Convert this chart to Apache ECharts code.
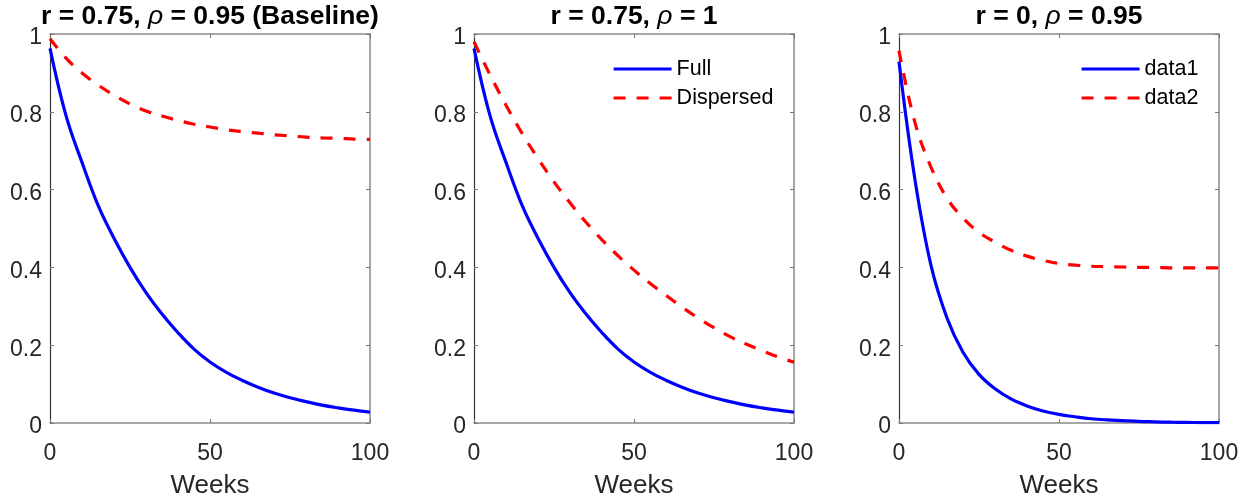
<!DOCTYPE html>
<html><head><meta charset="utf-8">
<script src="https://cdn.jsdelivr.net/npm/echarts@6/dist/echarts.min.js"></script>
<style>html,body{margin:0;padding:0;background:#fff}#c{width:1252px;height:504px}</style>
</head><body><div id="c"></div>
<script>
// ---- data ----
const weeks = [0, 5, 10, 15, 20, 25, 30, 35, 40, 45, 50, 55, 60, 65, 70, 75, 80, 85, 90, 95, 100];
// Panel 1: r = 0.75, rho = 0.95 (Baseline)
const fullA = [0.963, 0.79, 0.67, 0.56, 0.475, 0.4, 0.335, 0.28, 0.232, 0.19, 0.157, 0.131, 0.11, 0.092, 0.077, 0.065, 0.055, 0.046, 0.039, 0.033, 0.028];
const dispA = [0.988, 0.938, 0.9, 0.869, 0.843, 0.82, 0.802, 0.789, 0.778, 0.768, 0.761, 0.754, 0.749, 0.745, 0.741, 0.738, 0.735, 0.733, 0.732, 0.73, 0.729];
// Panel 2: r = 0.75, rho = 1
const fullB = [0.963, 0.79, 0.67, 0.56, 0.475, 0.4, 0.335, 0.28, 0.232, 0.19, 0.157, 0.131, 0.11, 0.092, 0.077, 0.065, 0.055, 0.046, 0.039, 0.033, 0.028];
const dispB = [0.98, 0.895, 0.817, 0.745, 0.68, 0.62, 0.566, 0.516, 0.471, 0.43, 0.393, 0.359, 0.328, 0.298, 0.27, 0.245, 0.222, 0.203, 0.186, 0.17, 0.156];
// Panel 3: r = 0, rho = 0.95
const fullC = [0.929, 0.625, 0.405, 0.27, 0.182, 0.125, 0.088, 0.062, 0.044, 0.031, 0.022, 0.016, 0.011, 0.008, 0.006, 0.004, 0.003, 0.002, 0.0015, 0.001, 0.001];
const dispC = [0.957, 0.772, 0.658, 0.578, 0.527, 0.49, 0.465, 0.444, 0.429, 0.418, 0.41, 0.406, 0.403, 0.402, 0.401, 0.4, 0.4, 0.399, 0.399, 0.399, 0.399];

const titleA = ['r = 0.75, ', 'ρ', ' = 0.95 (Baseline)'];
const titleB = ['r = 0.75, ', 'ρ', ' = 1'];
const titleC = ['r = 0, ', 'ρ', ' = 0.95'];
const seriesNamesB = ['Full', 'Dispersed'];
const seriesNamesC = ['data1', 'data2'];
const xLabel = 'Weeks';

// ---- layout / style ----
const FONT = '"Liberation Sans", Arial, Helvetica, sans-serif';
const lefts = [50, 474, 899];
const W = 320, TOP = 34, H = 394;
const panels = [
  {title: titleA, full: fullA, disp: dispA, names: seriesNamesB, legend: false},
  {title: titleB, full: fullB, disp: dispB, names: seriesNamesB, legend: true, legendLeft: 612},
  {title: titleC, full: fullC, disp: dispC, names: seriesNamesC, legend: true, legendLeft: 1080}
];

const grid = [], xAxis = [], yAxis = [], series = [], title = [], legend = [];
const boxLine = {show: true, onZero: false, lineStyle: {color: '#8a8a8a', width: 1.5}};
const tick = {show: true, inside: true, length: 4, lineStyle: {color: '#777', width: 1}};

panels.forEach((p, i) => {
  const l = lefts[i];
  grid.push({left: l, top: TOP, width: W, height: H, containLabel: false});
  xAxis.push({
    gridIndex: i, type: 'value', min: 0, max: 100, interval: 50, position: 'bottom',
    axisLine: boxLine, axisTick: tick, splitLine: {show: false},
    axisLabel: {fontSize: 23, color: '#262626', margin: 19, fontFamily: FONT},
    name: xLabel, nameLocation: 'middle', nameGap: 50,
    nameTextStyle: {fontSize: 26, color: '#262626', fontFamily: FONT}
  });
  xAxis.push({
    gridIndex: i, type: 'value', min: 0, max: 100, interval: 50, position: 'top',
    axisLine: boxLine, axisTick: tick, splitLine: {show: false}, axisLabel: {show: false}
  });
  yAxis.push({
    gridIndex: i, type: 'value', min: 0, max: 1, interval: 0.2, position: 'left',
    axisLine: {show: true, onZero: false, lineStyle: {color: '#333', width: 1.2}}, axisTick: tick, splitLine: {show: false},
    axisLabel: {fontSize: 23, color: '#262626', margin: 8, fontFamily: FONT, verticalAlign: 'top', lineHeight: 8}
  });
  yAxis.push({
    gridIndex: i, type: 'value', min: 0, max: 1, interval: 0.2, position: 'right',
    axisLine: boxLine, axisTick: tick, splitLine: {show: false}, axisLabel: {show: false}
  });
  const xi = 2 * i, yi = 2 * i;
  series.push({
    type: 'line', name: p.names[0], xAxisIndex: xi, yAxisIndex: yi,
    data: weeks.map((w, j) => [w, p.full[j]]),
    symbol: 'none', showSymbol: false, smooth: 0.4,
    lineStyle: {color: '#0000ff', width: 3.2}, itemStyle: {color: '#0000ff'}, z: 2
  });
  series.push({
    type: 'line', name: p.names[1], xAxisIndex: xi, yAxisIndex: yi,
    data: weeks.map((w, j) => [w, p.disp[j]]),
    symbol: 'none', showSymbol: false, smooth: 0.4,
    lineStyle: {color: '#ff0000', width: 3.2, type: [12, 11]}, itemStyle: {color: '#ff0000'}, z: 3
  });
  title.push({
    text: '{b|' + p.title[0] + '}{i|' + p.title[1] + '}{b|' + p.title[2] + '}',
    left: l + W / 2, top: 3, textAlign: 'center', padding: 0,
    textStyle: {
      rich: {
        b: {fontSize: 26.5, fontWeight: 'bold', color: '#000', fontFamily: FONT},
        i: {fontSize: 26.5, fontStyle: 'italic', fontWeight: 'normal', color: '#000', fontFamily: FONT}
      }
    }
  });
  if (p.legend) {
    legend.push({
      show: true, orient: 'vertical', left: p.legendLeft, top: 58, padding: 0,
      itemWidth: 58, itemHeight: 14, itemGap: 7,
      data: p.names, selectedMode: false,
      itemStyle: {opacity: 0},
      lineStyle: {width: 3.2},
      textStyle: {fontSize: 21.5, color: '#000', fontFamily: FONT, lineHeight: 22}
    });
  }
});

const chart = echarts.init(document.getElementById('c'), null, {renderer: 'canvas'});
chart.setOption({
  backgroundColor: '#fff', animation: false,
  title, legend, grid, xAxis, yAxis, series
});
</script>
</body></html>
